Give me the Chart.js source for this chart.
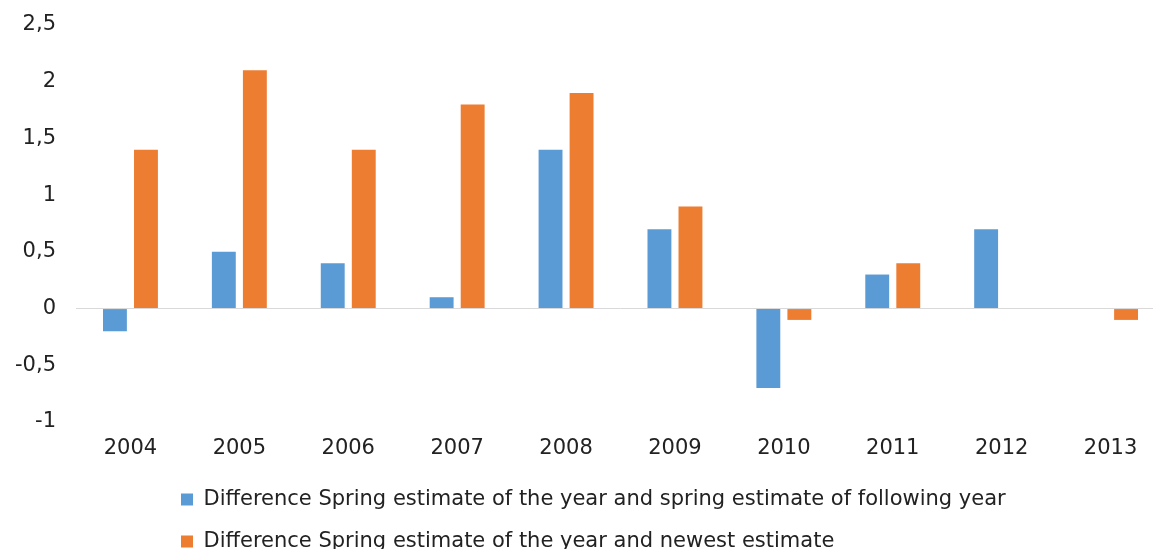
<!DOCTYPE html>
<html>
<head>
<meta charset="utf-8">
<script src="https://cdn.jsdelivr.net/npm/chart.js@4"></script>
<style>
  html, body { margin: 0; padding: 0; background: #fff; overflow: hidden; }
  #wrap { width: 1165px; height: 562px; }
</style>
</head>
<body>
<div id="wrap"><canvas id="chart"></canvas></div>
<script>
// Categories and series
var years = ["2004", "2005", "2006", "2007", "2008", "2009", "2010", "2011", "2012", "2013"];
var followingYear = [-0.2, 0.5, 0.4, 0.1, 1.4, 0.7, -0.7, 0.3, 0.7, null];
var newestEstimate = [1.4, 2.1, 1.4, 1.8, 1.9, 0.9, -0.1, 0.4, null, -0.1];
var seriesNames = [
  "Difference Spring estimate of the year and spring estimate of following year",
  "Difference Spring estimate of the year and newest estimate"
];
var yTicks = [-1, -0.5, 0, 0.5, 1, 1.5, 2, 2.5];

const FONT = "'DejaVu Sans', Verdana, sans-serif";

// Shift the legend so both rows start at the same left edge
var legendShift = {
  id: "legendShift",
  afterLayout: function (chart) {
    var lg = chart.legend;
    var w = lg.right - lg.left;
    lg.left = 160;
    lg.right = 160 + w;
  }
};

new Chart(document.getElementById("chart"), {
  type: "bar",
  data: {
    labels: years,
    datasets: [
      {
        label: seriesNames[0],
        data: followingYear,
        backgroundColor: "#5B9BD5",
        categoryPercentage: 0.57,
        barPercentage: 0.77
      },
      {
        label: seriesNames[1],
        data: newestEstimate,
        backgroundColor: "#ED7D31",
        categoryPercentage: 0.57,
        barPercentage: 0.77
      }
    ]
  },
  options: {
    responsive: true,
    maintainAspectRatio: false,
    animation: false,
    layout: { padding: { top: 25, left: 0, right: 0, bottom: 0 } },
    plugins: {
      legend: {
        position: "bottom",
        align: "start",
        labels: {
          boxWidth: 12,
          boxHeight: 12,
          padding: 21,
          color: "#222",
          font: { family: FONT, size: 21 }
        }
      },
      tooltip: { enabled: false }
    },
    scales: {
      x: {
        grid: { display: false, drawTicks: false },
        border: { display: false },
        ticks: { color: "#222", padding: 14, font: { family: FONT, size: 21 } },
        afterFit: function (s) { s.height = 46; }
      },
      y: {
        min: -1,
        max: 2.5,
        afterBuildTicks: function (s) {
          s.ticks = yTicks.map(function (v) { return { value: v }; });
        },
        afterFit: function (s) {
          s.width = 76;
          s.paddingTop = 0;
          s.paddingBottom = 0;
        },
        grid: {
          drawTicks: false,
          color: function (c) { return c.tick && c.tick.value === 0 ? "#d9d9d9" : "rgba(0,0,0,0)"; }
        },
        border: { display: false },
        ticks: {
          color: "#222",
          padding: 20,
          font: { family: FONT, size: 21 },
          callback: function (v) { return String(v).replace(".", ","); }
        }
      }
    }
  },
  plugins: [legendShift]
});
</script>
</body>
</html>
